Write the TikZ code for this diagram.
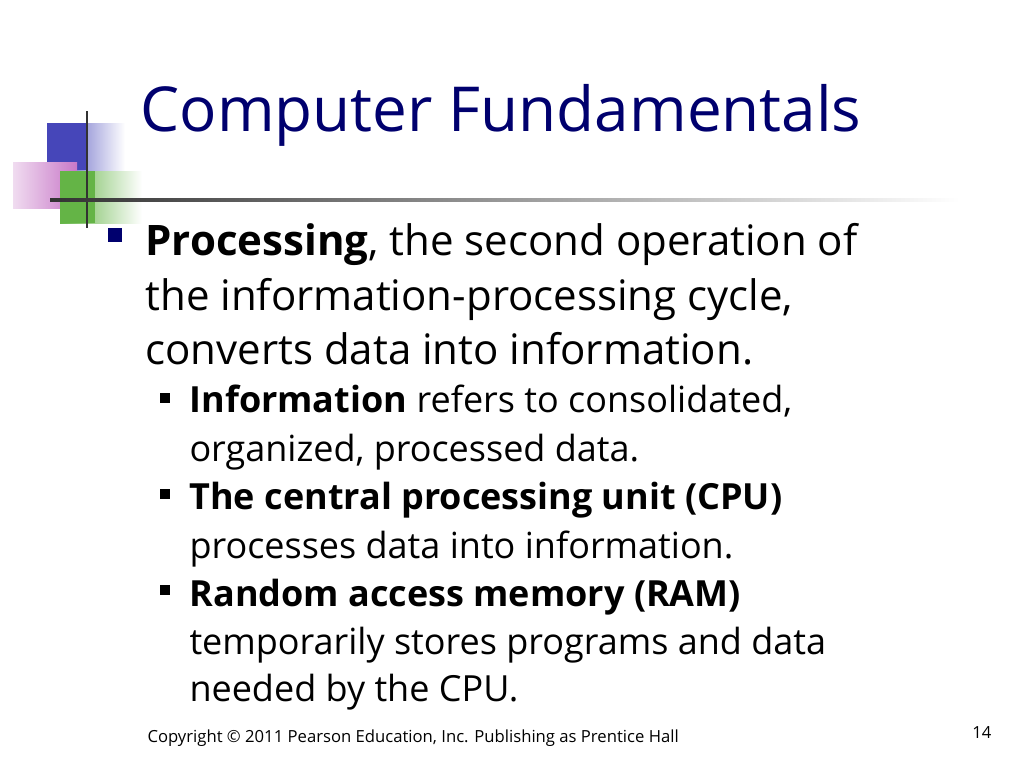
\documentclass[tikz,border=0pt]{standalone}
\usepackage{fontspec}
\setmainfont{Open Sans}
\definecolor{navy}{RGB}{0,0,110}
\tikzset{every picture/.style={line width=0.75pt}}
\begin{document}
\begin{tikzpicture}[x=0.75pt,y=0.75pt,yscale=-1,xscale=1,
  lvlone/.style={anchor=base west,inner sep=0pt,font=\fontsize{31.5}{36}\selectfont},
  lvltwo/.style={anchor=base west,inner sep=0pt,font=\fontsize{27}{31}\selectfont}]
\useasboundingbox (0,0) rectangle (1024,768);

%Shape: Blue square
\shade [left color={rgb,255:red,70;green,70;blue,185},right color=white] (47,123) rectangle (125,170);
\fill [color={rgb,255:red,70;green,70;blue,185}] (47,123) rectangle (88,170);
%Shape: Pink square
\shade [left color={rgb,255:red,240;green,220;blue,240},right color={rgb,255:red,200;green,120;blue,200}] (13,162) rectangle (77,208);
%Shape: Green square
\shade [left color={rgb,255:red,100;green,180;blue,70},right color=white] (60,171) rectangle (142,223);
\fill [color={rgb,255:red,100;green,180;blue,70}] (60,171) rectangle (95,223);
%Straight Lines
\draw [line width=1.5pt,color={rgb,255:red,50;green,50;blue,50}] (87,111) -- (87,228);
\shade [left color={rgb,255:red,50;green,50;blue,50},right color=white] (50,198.5) rectangle (960,201.5);

% Text Node
\node [anchor=base west,inner sep=0pt,text=navy,font=\fontsize{46.5}{50}\selectfont] (title) at (140,131) {Computer Fundamentals};

% Bullets
\fill [navy] (108,228) rectangle (122,242);
\foreach \y in {393,489,585} \fill (160,\y) rectangle (170,\y+10);

% Text Node
\node [lvlone] (p1) at (145,255) {\textbf{Processing}, the second operation of};
\node [lvlone] (p2) at (145,310) {the information-processing cycle,};
\node [lvlone] (p3) at (145,364) {converts data into information.};
\node [lvltwo] (s1) at (189,412) {\textbf{Information} refers to consolidated,};
\node [lvltwo] (s2) at (189,461) {organized, processed data.};
\node [lvltwo] (s3) at (189,509) {\textbf{The central processing unit (CPU)}};
\node [lvltwo] (s4) at (189,558) {processes data into information.};
\node [lvltwo] (s5) at (189,606) {\textbf{Random access memory (RAM)}};
\node [lvltwo] (s6) at (189,654) {temporarily stores programs and data};
\node [lvltwo] (s7) at (189,701) {needed by the CPU.};
\node [anchor=base west,inner sep=0pt,font=\fontsize{12.5}{14}\selectfont] (copy) at (147,742) {Copyright © 2011 Pearson Education, Inc. Publishing as Prentice Hall};
\node [anchor=base east,inner sep=0pt,font=\fontsize{12.5}{14}\selectfont] (page) at (992,738) {14};
\end{tikzpicture}
\end{document}
